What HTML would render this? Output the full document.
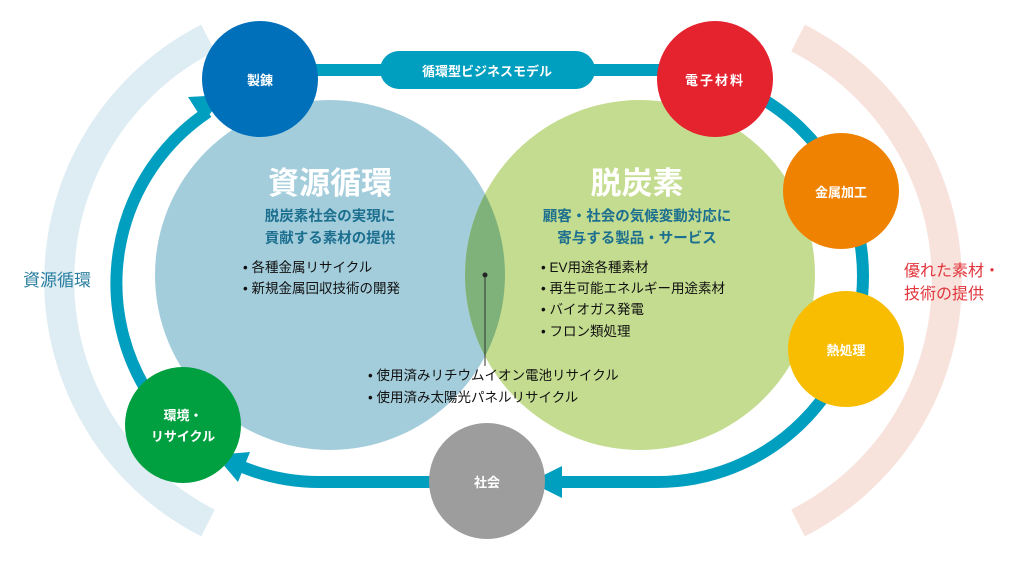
<!DOCTYPE html>
<html><head><meta charset="utf-8"><style>
html,body{margin:0;padding:0;background:#fff;}
svg{display:block;font-family:"Liberation Sans","Noto Sans CJK JP",sans-serif;}
</style></head><body>
<svg width="1024" height="569" viewBox="0 0 1024 569" xmlns="http://www.w3.org/2000/svg">
<path d="M 208 38 A 272 272 0 0 0 208 523" fill="none" stroke="#deedf3" stroke-width="30"/>
<path d="M 798 38 A 272 272 0 0 1 798 523" fill="none" stroke="#f8e2dc" stroke-width="30"/>
<circle cx="330" cy="275" r="175" fill="#a4cddc"/>
<circle cx="640" cy="275" r="175" fill="#c4dc8f"/>
<clipPath id="cb"><circle cx="330" cy="275" r="175"/></clipPath>
<circle cx="640" cy="275" r="175" fill="#7fb27a" clip-path="url(#cb)"/>
<g fill="none" stroke="#009ebf" stroke-width="12">
<path d="M 260 70 L 657 70 A 206 206 0 0 1 657 482 L 560 482"/>
<path d="M 487 482 L 320 482 A 206 206 0 0 1 240 466"/>
<path d="M 160 410 A 206 206 0 0 1 208 112"/>
</g>
<polygon points="530,482 562,466 562,498" fill="#009ebf"/>
<polygon points="215,455 250,452 238,482" fill="#009ebf"/>
<polygon points="224,95 188,97 204,122" fill="#009ebf"/>
<rect x="380" y="51" width="215" height="38" rx="19" fill="#009ebf"/>
<text x="487" y="76" text-anchor="middle" font-size="13" font-weight="bold" fill="#fff">循環型ビジネスモデル</text>
<circle cx="260" cy="79" r="58" fill="#0070bb"/>
<text x="260" y="85" text-anchor="middle" font-size="13" font-weight="bold" fill="#fff">製錬</text>
<circle cx="715" cy="79" r="58" fill="#e4232f"/>
<text x="715" y="85" text-anchor="middle" font-size="13" font-weight="bold" fill="#fff" letter-spacing="2">電子材料</text>
<circle cx="841" cy="191" r="58" fill="#ef8200"/>
<text x="841" y="197" text-anchor="middle" font-size="13" font-weight="bold" fill="#fff">金属加工</text>
<circle cx="846" cy="349" r="58" fill="#f8bd00"/>
<text x="846" y="355" text-anchor="middle" font-size="13" font-weight="bold" fill="#fff">熱処理</text>
<circle cx="487" cy="481" r="58" fill="#9d9d9d"/>
<text x="487" y="487" text-anchor="middle" font-size="13" font-weight="bold" fill="#fff">社会</text>
<circle cx="183" cy="425" r="58" fill="#00a040"/>
<text x="183" y="420" text-anchor="middle" font-size="13" font-weight="bold" fill="#fff">環境・</text>
<text x="183" y="441" text-anchor="middle" font-size="13" font-weight="bold" fill="#fff">リサイクル</text>
<text x="57" y="286" text-anchor="middle" font-size="17" fill="#2a7fa0">資源循環</text>
<text x="904" y="276" font-size="16" fill="#e0363c">優れた素材・</text>
<text x="904" y="299" font-size="16" fill="#e0363c">技術の提供</text>
<text x="330" y="194" text-anchor="middle" font-size="31" font-weight="bold" fill="#fff">資源循環</text>
<text x="330" y="221" text-anchor="middle" font-size="14.5" font-weight="bold" fill="#1c6f8f">脱炭素社会の実現に</text>
<text x="330" y="243" text-anchor="middle" font-size="14.5" font-weight="bold" fill="#1c6f8f">貢献する素材の提供</text>
<g font-size="13.5" fill="#111">
<text x="243" y="272">•  各種金属リサイクル</text>
<text x="243" y="293">•  新規金属回収技術の開発</text>
<text x="637" y="194" text-anchor="middle" font-size="31" font-weight="bold" fill="#fff">脱炭素</text>
<text x="637" y="221" text-anchor="middle" font-size="14.5" font-weight="bold" fill="#1c6f8f">顧客・社会の気候変動対応に</text>
<text x="637" y="243" text-anchor="middle" font-size="14.5" font-weight="bold" fill="#1c6f8f">寄与する製品・サービス</text>
<text x="541" y="272">•  EV用途各種素材</text>
<text x="541" y="293">•  再生可能エネルギー用途素材</text>
<text x="541" y="314">•  バイオガス発電</text>
<text x="541" y="336">•  フロン類処理</text>
<text x="368" y="380">•  使用済みリチウムイオン電池リサイクル</text>
<text x="368" y="402">•  使用済み太陽光パネルリサイクル</text>
</g>
<circle cx="485" cy="275" r="2.5" fill="#222"/>
<line x1="485" y1="275" x2="485" y2="366" stroke="#333" stroke-width="1"/>
</svg>
</body></html>
